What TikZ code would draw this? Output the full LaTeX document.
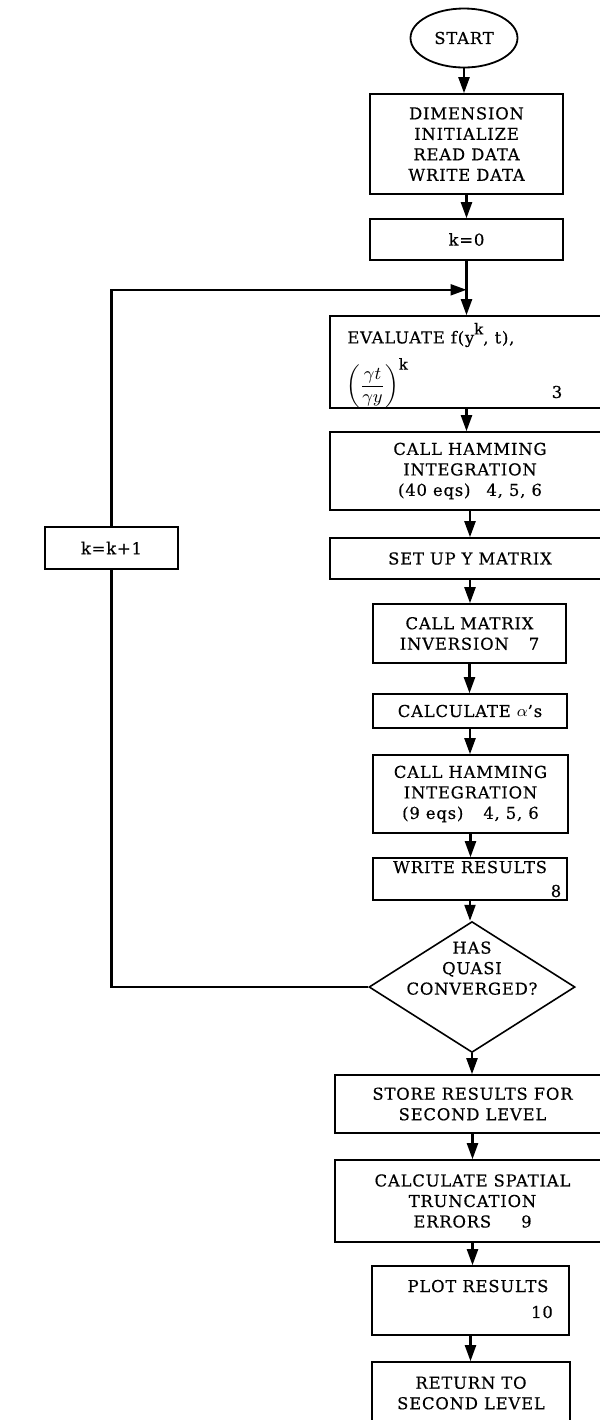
\documentclass[tikz,border=0pt]{standalone}
\usepackage{amsmath}
\usepackage{fontspec}
\setmainfont{DejaVu Serif}[FakeBold=0.5, LetterSpace=5]
\usetikzlibrary{shapes.geometric,arrows.meta,calc}

\begin{document}
\begin{tikzpicture}[x=0.5pt,y=-0.5pt,
  every node/.style={font=\fontsize{8.2}{10.25}\selectfont},
  box/.style={draw, rectangle, line width=0.8pt, inner sep=0pt, align=center},
  term/.style={draw, ellipse, line width=0.9pt, inner sep=0pt},
  decision/.style={draw, diamond, line width=0.8pt, inner sep=0pt, align=center},
  flow/.style={line width=1.1pt, -{Triangle[length=8pt,width=5.5pt]}},
  link/.style={line width=1.1pt},
  num/.style={inner sep=0pt},
  txt/.style={inner sep=0pt, anchor=west}]

\clip (0,0) rectangle (600,1420);

% main column
\node[term, minimum width=53.5pt, minimum height=29.5pt] (start) at (464,38) {START};
\node[box, minimum width=96.5pt, minimum height=50pt] (dim) at (466.5,144)
  {DIMENSION\\INITIALIZE\\READ DATA\\WRITE DATA};
\node[box, minimum width=96.5pt, minimum height=20.5pt] (k0) at (466.5,239.5) {k=0};
\node[box, minimum width=140pt, minimum height=46pt] (eval) at (470,362) {};
\node[txt] (evalA) at (347,335)
  {EVALUATE f(y\raisebox{4.5pt}{\fontsize{7.5}{8}\selectfont k}, t),};
\node[txt] (evalB) at (346,383)
  {\fontsize{8.6}{10}\selectfont$\left(\dfrac{\gamma t}{\gamma y}\right)^{\mbox{\fontsize{7.5}{8}\selectfont k}}$};
\node[num] (n3) at (557,392) {3};
\node[box, minimum width=140pt, minimum height=39pt] (ham40) at (470,471)
  {CALL HAMMING\\INTEGRATION\\(40 eqs)\hspace{8pt}4, 5, 6};
\node[box, minimum width=140pt, minimum height=20.5pt] (setup) at (470,558.5) {SET UP Y MATRIX};
\node[box, minimum width=96.5pt, minimum height=29.5pt] (minv) at (469.5,633.5)
  {CALL MATRIX\\INVERSION\hspace{10pt}7};
\node[box, minimum width=97pt, minimum height=17pt] (alpha) at (470,711) {CALCULATE $\alpha$'s};
\node[box, minimum width=97.5pt, minimum height=39pt] (ham9) at (470.5,794)
  {CALL HAMMING\\INTEGRATION\\(9 eqs)\hspace{10pt}4, 5, 6};
\node[box, minimum width=97pt, minimum height=21pt] (write) at (470,879)
  {\raisebox{3pt}[0pt][0pt]{WRITE RESULTS}};
\node[num] (n8) at (556,891) {8};
\node[decision, minimum width=103pt, minimum height=59pt] (conv) at (472,987)
  {\raisebox{6.5pt}[0pt][0pt]{\begin{tabular}{@{}c@{}}HAS\\QUASI\\CONVERGED?\end{tabular}}};
\node[box, minimum width=137.5pt, minimum height=29pt] (store) at (472.5,1104)
  {STORE RESULTS FOR\\SECOND LEVEL};
\node[box, minimum width=137.5pt, minimum height=41pt] (spatial) at (472.5,1201)
  {CALCULATE SPATIAL\\TRUNCATION\\ERRORS\hspace{15pt}9};
\node[box, minimum width=98.5pt, minimum height=34.5pt] (plot) at (470.5,1300.5)
  {\raisebox{4.25pt}[0pt][0pt]{\hspace*{7.5pt}PLOT RESULTS}};
\node[num] (n10) at (542,1312) {10};
\node[box, minimum width=99pt, minimum height=31pt] (ret) at (471,1393)
  {RETURN TO\\SECOND LEVEL};

% loop-back counter
\node[box, minimum width=66.5pt, minimum height=21pt] (kk) at (111.5,548) {k=k+1};

% connectors along the main column
\draw[flow] (start.south) -- (start.south |- dim.north);
\draw[flow] (dim.south) -- (dim.south |- k0.north);
\draw[flow] (k0.south) -- (k0.south |- eval.north);
\draw[flow] (eval.south -| k0.south) -- (k0.south |- ham40.north);
\draw[flow] (ham40.south) -- (ham40.south |- setup.north);
\draw[flow] (setup.south) -- (setup.south |- minv.north);
\draw[flow] (minv.south) -- (minv.south |- alpha.north);
\draw[flow] (alpha.south) -- (alpha.south |- ham9.north);
\draw[flow] (ham9.south) -- (ham9.south |- write.north);
\draw[flow] (write.south) -- (write.south |- conv.north);
\draw[flow] (conv.south) -- (conv.south |- store.north);
\draw[flow] (store.south) -- (store.south |- spatial.north);
\draw[flow] (spatial.south) -- (spatial.south |- plot.north);
\draw[flow] (plot.south) -- (plot.south |- ret.north);

% iteration loop
\coordinate (join) at ($(k0.south)+(0,29)$);
\draw[link] (conv.west) -- (kk |- conv.west) -- (kk.south);
\draw[flow] (kk.north) -- (kk |- join) -- (join);
\end{tikzpicture}
\end{document}
